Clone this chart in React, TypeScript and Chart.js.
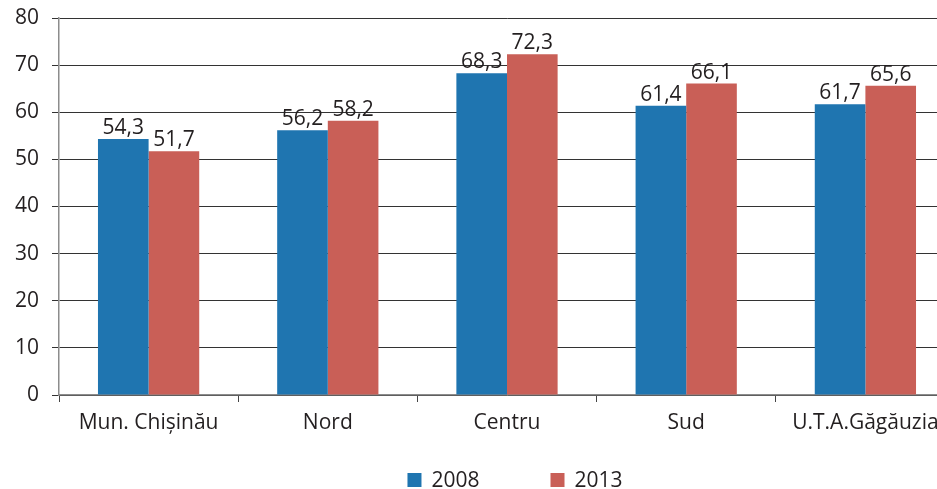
import React, { useEffect, useRef } from "react";
import { Chart, registerables } from "chart.js";

Chart.register(...registerables);

const categories = ["Mun. Chișinău", "Nord", "Centru", "Sud", "U.T.A.Găgăuzia"];
const seriesLabels = ["2008", "2013"];
const values2008 = [54.3, 56.2, 68.3, 61.4, 61.7];
const values2013 = [51.7, 58.2, 72.3, 66.1, 65.6];
const yMax = 80;
const yStep = 10;

const FONT = "'Open Sans', 'Noto Sans', sans-serif";
const TEXT = "#231f20";
const COLORS = ["#1f75b0", "#c95f57"];

const fmt = (v: number) => v.toFixed(1).replace(".", ",");

const labelPlugin = {
  id: "valueLabels",
  afterDatasetsDraw(chart: any) {
    const ctx = chart.ctx;
    ctx.save();
    ctx.font = `21px ${FONT}`;
    ctx.fillStyle = TEXT;
    ctx.textAlign = "center";
    ctx.textBaseline = "alphabetic";
    chart.data.datasets.forEach((ds: any, i: number) => {
      const meta = chart.getDatasetMeta(i);
      meta.data.forEach((el: any, j: number) => {
        ctx.fillText(fmt(ds.data[j]), el.x, el.y - 5);
      });
    });
    ctx.restore();
  },
};

const legendPlugin = {
  id: "bottomLegend",
  afterDraw(chart: any) {
    const ctx = chart.ctx;
    ctx.save();
    ctx.font = `21px ${FONT}`;
    ctx.textBaseline = "middle";
    const box = 14;
    const gapText = 10;
    const gapItem = 71;
    const items = chart.data.datasets.map((ds: any) => ({
      label: ds.label,
      color: ds.backgroundColor,
      w: box + gapText + ctx.measureText(ds.label).width,
    }));
    const total = items.reduce((s: number, it: any) => s + it.w, 0) + gapItem * (items.length - 1);
    let x = 515 - total / 2;
    const y = 480;
    items.forEach((it: any) => {
      ctx.fillStyle = it.color;
      ctx.fillRect(x, y - box / 2, box, box);
      ctx.fillStyle = TEXT;
      ctx.textAlign = "left";
      ctx.fillText(it.label, x + box + gapText, y + 1);
      x += it.w + gapItem;
    });
    ctx.restore();
  },
};

export default function App() {
  const ref = useRef<HTMLCanvasElement>(null);
  useEffect(() => {
    if (!ref.current) return;
    const chart = new Chart(ref.current, {
      type: "bar",
      data: {
        labels: categories,
        datasets: [
          { label: seriesLabels[0], data: values2008, backgroundColor: COLORS[0], barPercentage: 1, categoryPercentage: 0.565 },
          { label: seriesLabels[1], data: values2013, backgroundColor: COLORS[1], barPercentage: 1, categoryPercentage: 0.565 },
        ],
      },
      options: {
        responsive: false,
        animation: false,
        devicePixelRatio: 1,
        layout: { padding: { top: 18, right: 5, left: 0, bottom: 0 } },
        plugins: { legend: { display: false }, tooltip: { enabled: false } },
        scales: {
          x: {
            offset: true,
            grid: { drawOnChartArea: false, drawTicks: true, tickLength: 7, color: "#444444", offset: true },
            border: { color: "#8c8c8c", width: 1.5 },
            ticks: { font: { family: FONT, size: 21 }, color: TEXT, padding: 8, maxRotation: 0, autoSkip: false },
            afterFit: (s: any) => { s.height = 94; s.paddingLeft = 0; s.paddingRight = 0; },
          },
          y: {
            min: 0,
            max: yMax,
            grid: { color: "#333333", lineWidth: 1, tickLength: 7 },
            border: { color: "#8c8c8c", width: 1.5 },
            ticks: { stepSize: yStep, font: { family: FONT, size: 21 }, color: TEXT, padding: 13 },
            afterFit: (s: any) => { s.width = 59; s.paddingTop = 0; s.paddingBottom = 0; },
          },
        },
      },
      plugins: [labelPlugin, legendPlugin],
    });
    return () => chart.destroy();
  }, []);
  return (
    <div style={{ position: "absolute", left: 0, top: 0, width: 937, height: 489, overflow: "hidden", background: "#fff" }}>
      <canvas ref={ref} width={960} height={489} style={{ width: 960, height: 489, display: "block" }} />
    </div>
  );
}
